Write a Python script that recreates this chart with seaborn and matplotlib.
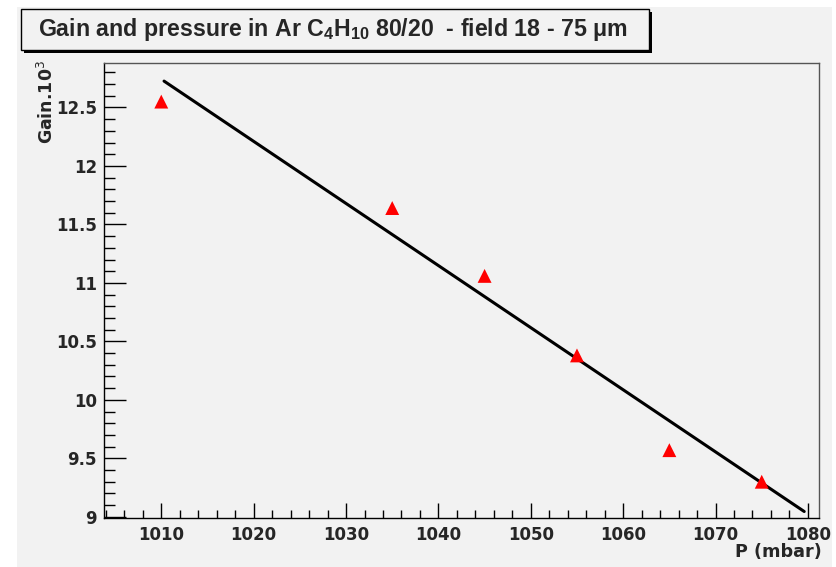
import numpy as np
import pandas as pd
import matplotlib
matplotlib.use("Agg")
import matplotlib.pyplot as plt
import seaborn as sns
from matplotlib.patches import Rectangle
from matplotlib.ticker import MultipleLocator, FuncFormatter

# Measurements: gas pressure (mbar) and gain (in units of 10^3)
pressure = [1010, 1035, 1045, 1055, 1065, 1075]
gain = [12.55, 11.64, 11.06, 10.38, 9.57, 9.30]

title_text = r"Gain and pressure in Ar C$_4$H$_{10}$ 80/20  - field 18 - 75 μm"
xlabel_text = "P (mbar)"
ylabel_text = r"Gain.10$^3$"

# Range of the linear fit drawn over the points
fit_range = (1010.3, 1079.6)

sns.set_style("ticks")
plt.rcParams["font.family"] = ["Liberation Sans", "DejaVu Sans"]
plt.rcParams["mathtext.fontset"] = "custom"
plt.rcParams["mathtext.rm"] = "Liberation Sans:bold"
plt.rcParams["mathtext.it"] = "Liberation Sans:bold"
plt.rcParams["mathtext.bf"] = "Liberation Sans:bold"

bg = "#f2f2f2"
W, H = 836, 567
fig = plt.figure(figsize=(W / 100, H / 100), dpi=100, facecolor="white")

# grey canvas area
fig.patches.append(Rectangle((17 / W, 0), (832 - 17) / W, 1 - 7 / H,
                             transform=fig.transFigure, facecolor=bg,
                             edgecolor="none", zorder=-5))

ax = fig.add_axes([104 / W, 1 - 518 / H, (819 - 104) / W, (518 - 63) / H])
ax.set_zorder(2)
ax.set_facecolor(bg)

df = pd.DataFrame({"P": pressure, "G": gain})
slope, intercept = np.polyfit(df["P"], df["G"], 1)
fx = np.linspace(fit_range[0], fit_range[1], 50)
fit_df = pd.DataFrame({"P": fx, "G": slope * fx + intercept})

sns.lineplot(data=fit_df, x="P", y="G", ax=ax, color="black", linewidth=2.2, zorder=3)
sns.scatterplot(data=df, x="P", y="G", ax=ax, marker="^", s=100, color="red",
                edgecolor="none", linewidth=0, zorder=4)

ax.set_xlim(1003.8, 1081.2)
ax.set_ylim(8.99, 12.88)
ax.set_xlabel("")
ax.set_ylabel("")

ax.xaxis.set_major_locator(MultipleLocator(10))
ax.xaxis.set_minor_locator(MultipleLocator(2))
ax.yaxis.set_major_locator(MultipleLocator(0.5))
ax.yaxis.set_minor_locator(MultipleLocator(0.1))
ax.yaxis.set_major_formatter(FuncFormatter(lambda v, p: f"{v:g}"))
ax.xaxis.set_major_formatter(FuncFormatter(lambda v, p: f"{v:g}"))

ax.tick_params(axis="both", which="both", direction="in", color="black", width=1)
ax.tick_params(axis="x", which="major", length=10.5, pad=6, labelsize=12)
ax.tick_params(axis="x", which="minor", length=5.5)
ax.tick_params(axis="y", which="major", length=16, pad=5, labelsize=12)
ax.tick_params(axis="y", which="minor", length=8)
for lab in ax.get_xticklabels() + ax.get_yticklabels():
    lab.set_fontweight("bold")
    lab.set_fontfamily(["DejaVu Sans"])

for side in ["left", "right", "top", "bottom"]:
    ax.spines[side].set_visible(True)
    ax.spines[side].set_color("#555555")
    ax.spines[side].set_linewidth(1)
ax.spines["left"].set_color("black")
ax.spines["bottom"].set_color("black")

# axis titles
fig.text(822 / W, 1 - 552 / H, xlabel_text, ha="right", va="center",
         fontsize=12.7, fontweight="bold", family=["DejaVu Sans"])
fig.text(47 / W, 1 - 60 / H, ylabel_text, ha="center", va="top",
         rotation=90, fontsize=12.5, fontweight="bold",
         family=["DejaVu Sans"], math_fontfamily="dejavusans")

# title box with drop shadow
bx0, by0, bx1, by1 = 21, 9, 649, 50
fig.patches.append(Rectangle(((bx0 + 3) / W, 1 - (by1 + 3) / H),
                             (bx1 - bx0) / W, (by1 - by0) / H,
                             transform=fig.transFigure, facecolor="black",
                             edgecolor="none", zorder=1))
fig.patches.append(Rectangle((bx0 / W, 1 - by1 / H),
                             (bx1 - bx0) / W, (by1 - by0) / H,
                             transform=fig.transFigure, facecolor=bg,
                             edgecolor="black", linewidth=1, zorder=2))
fig.text((38 + 628) / 2 / W, 1 - (by0 + by1) / 2 / H, title_text,
         ha="center", va="center", fontsize=16.7, fontweight="bold", zorder=3)

fig.savefig("out.png", dpi=100, facecolor="white")
